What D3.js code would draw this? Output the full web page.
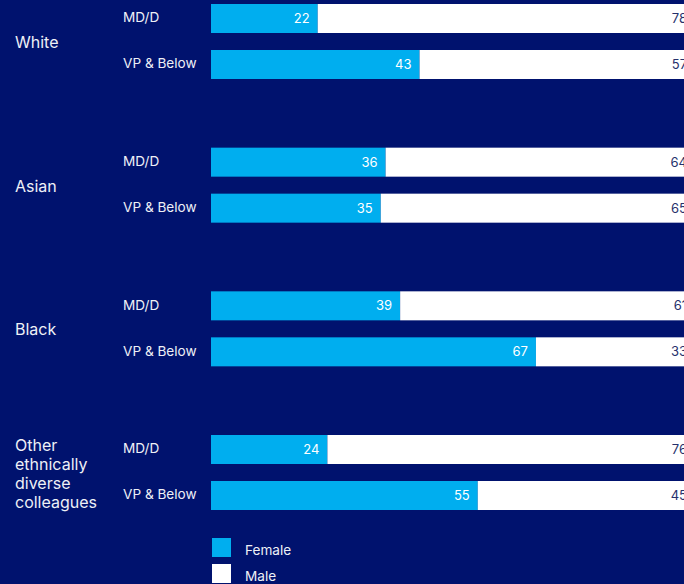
<!DOCTYPE html>
<html>
<head>
<meta charset="utf-8">
<script src="https://cdn.jsdelivr.net/npm/d3@7"></script>
<style>
  html, body { margin: 0; padding: 0; background: #00126e; }
  svg { display: block; }
  text { font-family: Inter, "Noto Sans", sans-serif; }
</style>
</head>
<body>
<svg id="chart" width="684" height="584"></svg>
<script>
const groups = ["White", "Asian", "Black", "Other ethnically diverse colleagues"];
const groupLines = [["White"], ["Asian"], ["Black"], ["Other", "ethnically", "diverse", "colleagues"]];
const levels = ["MD/D", "VP & Below"];
const female = [[22, 43], [36, 35], [39, 67], [24, 55]];
const male = [[78, 57], [64, 65], [61, 33], [76, 45]];
const legendLabels = ["Female", "Male"];

const bg = "#00126e", blue = "#00aeef", white = "#ffffff", navyText = "#26316c", labelWhite = "#eef0f6";

const svg = d3.select("#chart");
svg.append("rect").attr("width", 684).attr("height", 584).attr("fill", bg);

const x = d3.scaleLinear().domain([0, 100]).range([211, 696]);

const rows = [];
groups.forEach((g, gi) => levels.forEach((l, li) => rows.push({g, gi, l, li, f: female[gi][li], m: male[gi][li]})));

const yGroup = d3.scaleLinear().domain([0, 3]).range([4, 435]);
const rowY = r => yGroup(r.gi) + r.li * 46;
const barH = 29;

const row = svg.selectAll("g.row").data(rows).join("g").attr("class", "row");
row.append("rect").attr("x", x(0)).attr("y", rowY).attr("width", d => x(d.f) - x(0)).attr("height", barH).attr("fill", blue);
row.append("rect").attr("x", d => x(d.f)).attr("y", rowY).attr("width", d => x(d.f + d.m) - x(d.f)).attr("height", barH).attr("fill", white);
row.append("text").attr("x", d => x(d.f) - 8).attr("y", d => rowY(d) + barH / 2).attr("dy", "0.35em")
  .attr("text-anchor", "end").attr("fill", white).attr("font-size", 13).text(d => d.f);
row.append("text").attr("x", d => x(d.f + d.m) - 9).attr("y", d => rowY(d) + barH / 2).attr("dy", "0.35em")
  .attr("text-anchor", "end").attr("fill", navyText).attr("font-size", 13).text(d => d.m);
row.append("text").attr("x", 123).attr("y", d => rowY(d) + barH / 2 - 1).attr("dy", "0.35em")
  .attr("fill", labelWhite).attr("font-size", 13.6).text(d => d.l);

const gl = svg.selectAll("text.group").data(groupLines).join("text").attr("class", "group")
  .attr("x", 15).attr("fill", labelWhite).attr("font-size", 16)
  .attr("y", (d, i) => yGroup(i) + (46 + barH) / 2 - (d.length - 1) * 19 / 2 + 1);
gl.selectAll("tspan").data(d => d).join("tspan").attr("x", 15).attr("dy", (d, i) => i === 0 ? "0.35em" : 19).text(d => d);

const lg = svg.selectAll("g.legend").data(legendLabels).join("g").attr("class", "legend")
  .attr("transform", (d, i) => `translate(212, ${538 + i * 26})`);
lg.append("rect").attr("width", 19).attr("height", 19).attr("fill", (d, i) => i === 0 ? blue : white);
lg.append("text").attr("x", 33).attr("y", 12).attr("dy", "0.35em").attr("fill", labelWhite).attr("font-size", 13.6).text(d => d);
</script>
</body>
</html>
